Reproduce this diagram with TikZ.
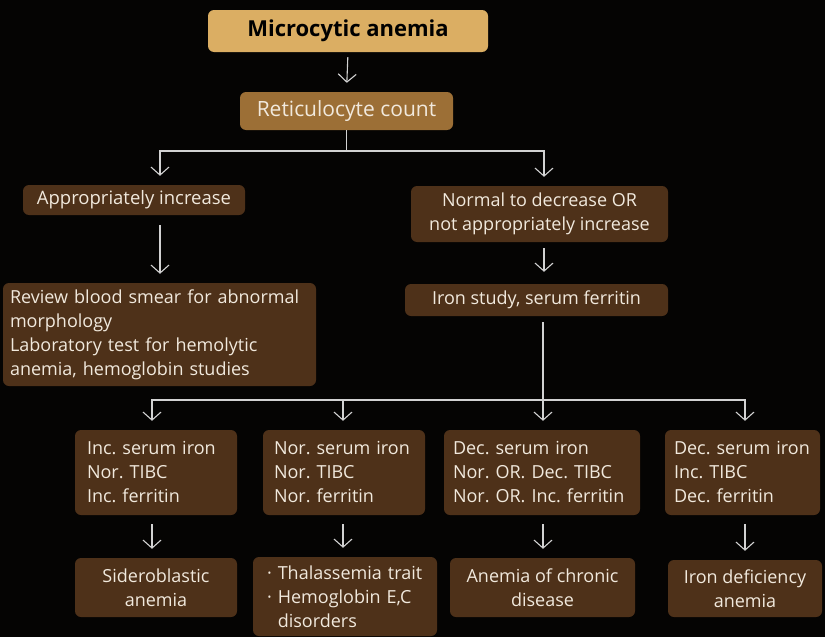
\documentclass[tikz,border=0pt]{standalone}
\usepackage{fontspec}
\setmainfont{Open Sans}
\usetikzlibrary{arrows.meta}
\definecolor{bgblack}{HTML}{050403}
\definecolor{boxbrown}{HTML}{4E3119}
\definecolor{boxgold}{HTML}{DBAE63}
\definecolor{boxmid}{HTML}{9C6F36}
\definecolor{boxtext}{HTML}{F1E9DD}
\definecolor{linegray}{HTML}{D2D2D2}
\frenchspacing
\tikzset{
  box/.style={rounded corners=6pt, fill=boxbrown, text=boxtext, inner sep=0pt,
    font=\fontsize{18}{24}\selectfont, align=center},
  leftbox/.style={box, align=left, inner xsep=#1},
  flow/.style={draw=linegray, line width=1.1pt, shorten >=9pt,
    -{Straight Barb[length=8pt,width=18pt,line width=1.1pt]}},
}
\begin{document}
\begin{tikzpicture}[x=1pt,y=-1pt]
  % Background
  \fill[bgblack] (0,0) rectangle (825,637);
  \useasboundingbox (0,0) rectangle (825,637);
  % Top of the tree
  \node[box, fill=boxgold, text=black, font=\fontsize{22}{24}\selectfont\bfseries,
    minimum width=280pt, minimum height=42pt] (micro) at (348,31) {Microcytic anemia};
  \node[box, fill=boxmid, font=\fontsize{21}{24}\selectfont,
    minimum width=213pt, minimum height=38pt] (retic) at (346.5,111) {Reticulocyte count};
  % Second level
  \node[box, font=\fontsize{18.5}{24}\selectfont, minimum width=222pt, minimum height=30pt] (appinc) at (134,200) {Appropriately increase};
  \node[leftbox=7pt, text width=299pt, minimum height=103pt] (review) at (159.5,334.5)
    {Review blood smear for abnormal\\morphology\\Laboratory test for hemolytic\\anemia, hemoglobin studies};
  \node[box, minimum width=257pt, minimum height=56pt] (normdec) at (539.5,214)
    {Normal to decrease OR\\not appropriately increase};
  \node[box, minimum width=263pt, minimum height=32pt] (ironstudy) at (536.5,300) {Iron study, serum ferritin};
  % Iron study results
  \node[leftbox=12pt, text width=138pt, minimum height=85pt] (resA) at (156,472.5)
    {Inc. serum iron\\Nor. TIBC\\Inc. ferritin};
  \node[leftbox=11pt, text width=140pt, minimum height=85pt] (resB) at (344,472.5)
    {Nor. serum iron\\Nor. TIBC\\Nor. ferritin};
  \node[leftbox=9pt, text width=178pt, minimum height=85pt] (resC) at (542,472.5)
    {Dec. serum iron\\Nor. OR. Dec. TIBC\\Nor. OR. Inc. ferritin};
  \node[leftbox=9pt, text width=137pt, minimum height=85pt] (resD) at (742.5,472.5)
    {Dec. serum iron\\Inc. TIBC\\Dec. ferritin};
  % Diagnoses
  \node[box, minimum width=162pt, minimum height=59pt] (sidero) at (156,587.5) {Sideroblastic\\anemia};
  \node[leftbox=14pt, text width=156pt, minimum height=79pt] (thal) at (345,596.5)
    {· Thalassemia trait\\· Hemoglobin E,C\\\phantom{· }disorders};
  \node[box, minimum width=185pt, minimum height=59pt] (chronic) at (542.5,587.5) {Anemia of chronic\\disease};
  \node[box, minimum width=154pt, minimum height=57pt] (irondef) at (745,588.5) {Iron deficiency\\anemia};
  % Branch points
  \coordinate (bL) at (160,151);
  \coordinate (bR) at (544,151);
  \coordinate (c1) at (152,400);
  \coordinate (c2) at (343,400);
  \coordinate (c3) at (543,400);
  \coordinate (c4) at (745,400);
  % Connectors
  \draw[flow, shorten <=5pt] (micro.south) -- (retic.north);
  \draw[flow] (retic.south) |- (bL) -- (appinc.north -| bL);
  \draw[flow] (retic.south) |- (bR) -- (normdec.north -| bR);
  \draw[flow, shorten <=10pt] (appinc.south -| bL) -- (review.north -| bL);
  \draw[flow, shorten <=6pt, shorten >=12pt] (normdec.south -| bR) -- (ironstudy.north -| bR);
  \draw[flow, shorten <=6pt] (ironstudy.south -| c3) -- (resC.north -| c3);
  \draw[flow] (c3) -- (c1) -- (resA.north -| c1);
  \draw[flow] (c2) -- (resB.north -| c2);
  \draw[flow] (c3) -- (c4) -- (resD.north -| c4);
  \draw[flow, shorten <=9pt] (resA.south -| c1) -- (sidero.north -| c1);
  \draw[flow, shorten <=9pt] (resB.south -| c2) -- (thal.north -| c2);
  \draw[flow, shorten <=9pt] (resC.south -| c3) -- (chronic.north -| c3);
  \draw[flow, shorten <=9pt] (resD.south -| c4) -- (irondef.north -| c4);
\end{tikzpicture}
\end{document}
